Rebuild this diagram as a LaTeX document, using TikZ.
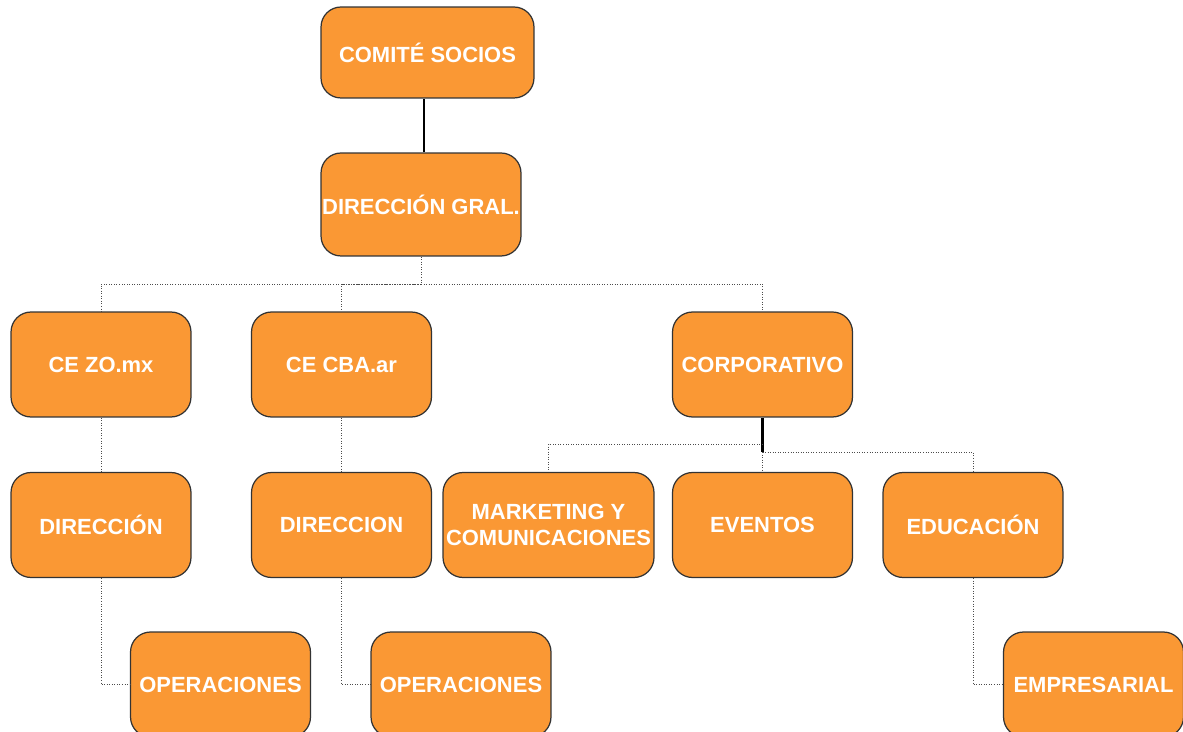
\documentclass[tikz,border=0pt]{standalone}
\usepackage{fontspec}
\setmainfont{Liberation Sans}
\definecolor{boxorange}{RGB}{250,152,52}
\tikzset{
    unit/.style={rectangle, rounded corners=0.4cm, draw=black!80, line width=0.7pt,
        fill=boxorange, text=white, font=\bfseries\fontsize{12.5}{14.5}\selectfont,
        align=center, inner sep=0pt, minimum width=3.6cm, minimum height=2.1cm},
    link/.style={line width=0.45pt, densely dotted, black!70},
    trunk/.style={line width=1.7pt, black}
}
\begin{document}
\begin{tikzpicture}[x=0.02cm, y=-0.02cm]
    \clip (0,0) rectangle (1183,732);
    \useasboundingbox (0,0) rectangle (1183,732);

    \node[unit, minimum width=4.26cm, minimum height=1.82cm] (comite) at (427.5,52.5) {COMITÉ SOCIOS};
    \node[unit, minimum width=4.0cm, minimum height=2.06cm] (dirgral) at (421,204.5) {DIRECCIÓN GRAL.};

    \node[unit] (cezo) at (101,364.5) {CE ZO.mx};
    \node[unit] (cecba) at (341.5,364.5) {CE CBA.ar};
    \node[unit] (corp) at (762.5,364.5) {CORPORATIVO};

    \node[unit] (dirmx) at (101,525) {DIRECCIÓN};
    \node[unit] (dirar) at (341.5,525) {DIRECCION};
    \node[unit, minimum width=4.22cm] (mkt) at (548.5,525) {MARKETING Y\\COMUNICACIONES};
    \node[unit] (eventos) at (762.5,525) {EVENTOS};
    \node[unit] (edu) at (973,525) {EDUCACIÓN};

    \node[unit] (opmx) at (220.5,684.5) {OPERACIONES};
    \node[unit] (opar) at (461,684.5) {OPERACIONES};
    \node[unit] (empr) at (1093.5,684.5) {EMPRESARIAL};

    \coordinate (busa) at (421,284);
    \coordinate (busb) at (762.5,444);
    \coordinate (busc) at (762.5,452);

    \draw[trunk] (dirgral.north -| 424,0) -- (comite.south -| 424,0);

    \draw[link] (dirgral.south) -- (busa) -| (cezo.north);
    \draw[link] (busa) -| (cecba.north);
    \draw[link] (busa) -| (corp.north);

    \draw[link] (cezo) -- (dirmx);
    \draw[link] (dirmx.south) |- (opmx.west);
    \draw[link] (cecba) -- (dirar);
    \draw[link] (dirar.south) |- (opar.west);

    \draw[trunk] (corp.south) -- (busc);
    \draw[link] (busb) -| (mkt.north);
    \draw[link] (busc) -| (edu.north);
    \draw[link] (busc) -- (eventos.north);
    \draw[link] (edu.south) |- (empr.west);
\end{tikzpicture}
\end{document}
